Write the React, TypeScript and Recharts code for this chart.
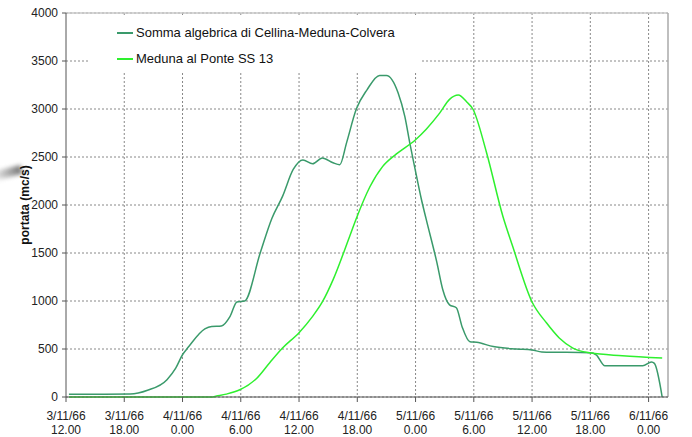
import { LineChart, Line, XAxis, YAxis, CartesianGrid, Legend, ReferenceLine } from "recharts"

// hours from 3/11/66 12.00
const sommaHours = [0.3, 4, 6.6, 8.4, 10.4, 11.3, 12, 12.6, 14.3, 15, 16, 16.9, 17.6, 18.4, 20, 21.2, 22.3, 23.4, 24.4, 25.4, 26.4, 27.5, 28.2, 28.9, 29.9, 31, 32.3, 33, 34.2, 34.9, 35.4, 35.9, 36.6, 37.1, 38.2, 38.8, 39.5, 40.2, 40.8, 41.6, 42.3, 44, 46.4, 48, 49, 54, 54.6, 55.5, 59.4, 60.3, 60.6, 61.4]
const sommaValues = [28, 28, 30, 70, 180, 300, 440, 520, 710, 735, 740, 840, 990, 1000, 1500, 1860, 2090, 2370, 2470, 2430, 2490, 2440, 2420, 2650, 3000, 3200, 3350, 3350, 3170, 2920, 2650, 2400, 2060, 1850, 1400, 1120, 960, 930, 730, 575, 570, 525, 500, 490, 470, 460, 440, 325, 325, 365, 350, 0]

const medunaHours = [0.3, 15, 15.5, 16.5, 17.9, 19.6, 21, 22.3, 24, 25.4, 26.4, 27.5, 29.2, 29.9, 31.3, 32.6, 34, 36, 37.1, 38.5, 39.5, 40.4, 41.3, 41.9, 43.3, 45, 46, 48, 49.5, 50.8, 52.2, 54, 57.3, 61.4]
const medunaValues = [0, 0, 10, 30, 75, 190, 360, 510, 670, 840, 990, 1220, 1670, 1860, 2190, 2400, 2530, 2680, 2790, 2960, 3100, 3145, 3070, 3000, 2550, 1880, 1570, 990, 770, 615, 510, 460, 430, 405]

const xTicks = [0, 6, 12, 18, 24, 30, 36, 42, 48, 54, 60]
const xDates = ["3/11/66", "3/11/66", "4/11/66", "4/11/66", "4/11/66", "4/11/66", "5/11/66", "5/11/66", "5/11/66", "5/11/66", "6/11/66"]
const xTimes = ["12.00", "18.00", "0.00", "6.00", "12.00", "18.00", "0.00", "6.00", "12.00", "18.00", "0.00"]
const yTicks = [0, 500, 1000, 1500, 2000, 2500, 3000, 3500, 4000]

const seriesNames = ["Somma algebrica di Cellina-Meduna-Colvera", "Meduna al Ponte SS 13"]
const seriesColors = ["#3a9a6b", "#2ef02e"]

const sommaData = sommaHours.map((h, i) => ({ h, v: sommaValues[i] }))
const medunaData = medunaHours.map((h, i) => ({ h, v: medunaValues[i] }))

const font = "'Liberation Sans', Arial, sans-serif"

function XTick(props: any) {
  const { x, y, payload } = props
  const i = xTicks.indexOf(payload.value)
  return (
    <text x={x} y={y} textAnchor="middle" fontSize={12} fill="#222" fontFamily={font}>
      <tspan x={x} dy={16}>{xDates[i]}</tspan>
      <tspan x={x} dy={14}>{xTimes[i]}</tspan>
    </text>
  )
}

function LegendBox() {
  return (
    <div style={{ background: "#fff", width: 332, height: 55, fontFamily: font, fontSize: 13, color: "#111" }}>
      {seriesNames.map((n, i) => (
        <div key={n} style={{ position: "absolute", left: 27, top: i === 0 ? 8 : 34, display: "flex", alignItems: "center" }}>
          <span style={{ display: "inline-block", width: 16, height: 2, background: seriesColors[i], marginRight: 3 }} />
          <span>{n}</span>
        </div>
      ))}
    </div>
  )
}

export default function App() {
  return (
    <div style={{ position: "absolute", left: 0, top: 0, width: 692, height: 437, background: "#fff" }}>
      <div
        style={{
          position: "absolute",
          left: -4,
          top: 168,
          width: 26,
          height: 9,
          background: "linear-gradient(90deg, rgba(120,120,120,0.2), rgba(90,90,90,0.85))",
          transform: "rotate(-14deg)",
          filter: "blur(2px)",
        }}
      />
      <LineChart width={692} height={437} data={sommaData} margin={{ top: 13, right: 24, bottom: 0, left: 0 }}>
        <CartesianGrid stroke="#888" strokeDasharray="2 2" horizontalValues={yTicks} verticalValues={xTicks.slice(1)} />
        <XAxis
          type="number"
          dataKey="h"
          domain={[0, 62]}
          ticks={xTicks}
          height={40}
          allowDataOverflow
          stroke="#555"
          tickSize={5}
          tick={<XTick />}
          interval={0}
        />
        <YAxis
          type="number"
          domain={[0, 4000]}
          ticks={yTicks}
          width={66}
          stroke="#555"
          tickSize={4}
          tickMargin={4}
          interval={0}
          tick={{ fontSize: 12, fill: "#222", fontFamily: font }}
          label={{ value: "portata (mc/s)", angle: -90, position: "center", dx: -8, style: { fontWeight: "bold", fontSize: 12, fill: "#111", fontFamily: font } }}
        />
        <ReferenceLine y={4000} stroke="#c8c8c8" strokeWidth={1.5} />
        <ReferenceLine x={62} stroke="#aaa" strokeWidth={1.5} />
        <Legend
          layout="vertical"
          align="center"
          verticalAlign="middle"
          width={332}
          height={55}
          wrapperStyle={{ left: 90, top: 17, width: 332, height: 55 }}
          content={<LegendBox />}
        />
        <Line data={sommaData} dataKey="v" name={seriesNames[0]} type="monotone" stroke={seriesColors[0]} strokeWidth={1.5} dot={false} isAnimationActive={false} />
        <Line data={medunaData} dataKey="v" name={seriesNames[1]} type="monotone" stroke={seriesColors[1]} strokeWidth={1.5} dot={false} isAnimationActive={false} />
      </LineChart>
    </div>
  )
}
